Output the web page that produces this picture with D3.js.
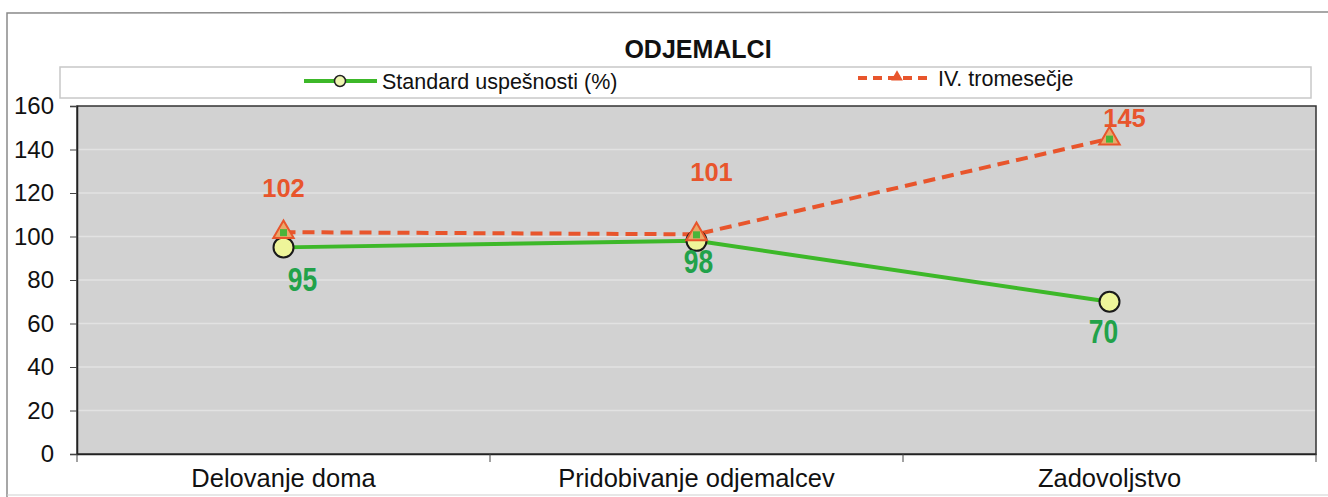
<!DOCTYPE html>
<html><head><meta charset="utf-8">
<script src="https://cdn.jsdelivr.net/npm/d3@7"></script>
<style>body{margin:0;background:#fff}svg{display:block}</style>
</head><body>
<svg id="c" width="1328" height="497"></svg>
<script>
const categories = ["Delovanje doma", "Pridobivanje odjemalcev", "Zadovoljstvo"];
const standardValues = [95, 98, 70];
const quarterValues = [102, 101, 145];
const seriesNames = ["Standard uspešnosti (%)", "IV. tromesečje"];
const yTicks = [0, 20, 40, 60, 80, 100, 120, 140, 160];
const title = "ODJEMALCI";

// label offsets (style, not data)
const stdLabelOff = [[19, 44], [2, 32], [-6, 41]];
const qLabelOff = [[0, -35], [15, -53], [15, -12]];

const svg = d3.select("#c");
const M = {left: 77, right: 1316, top: 106, bottom: 454};
const green = "#3db829", orange = "#e8552c";
const FONT = "Liberation Sans, Arial, sans-serif";

// outer frame
svg.append("path").attr("d", "M7,497 L7,13 L1328,12").attr("fill", "none").attr("stroke", "#8a8a8a").attr("stroke-width", 1.5);
svg.append("line").attr("x1", 7).attr("x2", 1328).attr("y1", 495).attr("y2", 495).attr("stroke", "#cfcfcf");

const x = d3.scaleBand().domain(categories).range([M.left, M.right]);
const y = d3.scaleLinear().domain([0, 160]).range([M.bottom, M.top]);

// plot bg
svg.append("rect").attr("x", M.left).attr("y", M.top).attr("width", M.right - M.left).attr("height", M.bottom - M.top)
  .attr("fill", "#d2d2d2");
// gridlines
svg.append("g").selectAll("line").data(yTicks.slice(1, -1)).join("line")
  .attr("x1", M.left).attr("x2", M.right).attr("y1", d => y(d)).attr("y2", d => y(d))
  .attr("stroke", "#e2e2e2").attr("stroke-width", 1.5);
svg.append("rect").attr("x", M.left).attr("y", M.top).attr("width", M.right - M.left).attr("height", M.bottom - M.top)
  .attr("fill", "none").attr("stroke", "#333").attr("stroke-width", 1.5);

// y axis
const ya = svg.append("g").attr("transform", `translate(${M.left},0)`)
  .call(d3.axisLeft(y).tickValues(yTicks).tickSize(7).tickPadding(16));
ya.select(".domain").attr("stroke", "#222").attr("stroke-width", 1.5);
ya.selectAll(".tick line").attr("stroke", "#444");
ya.selectAll("text").attr("font-family", FONT).attr("font-size", 24).attr("fill", "#111");

// x axis
const xa = svg.append("g").attr("transform", `translate(0,${M.bottom})`)
  .call(d3.axisBottom(x).tickSize(0).tickPadding(15));
xa.select(".domain").attr("stroke", "#222").attr("stroke-width", 1.5);
xa.selectAll("text").attr("font-family", FONT).attr("font-size", 25.5).attr("fill", "#111");
// category boundary ticks
svg.append("g").selectAll("line").data(categories.concat(["_end"])).join("line")
  .attr("x1", (d, i) => i < categories.length ? x(d) : M.right)
  .attr("x2", (d, i) => i < categories.length ? x(d) : M.right)
  .attr("y1", M.bottom).attr("y2", M.bottom + 8).attr("stroke", "#444");

const cx = d => x(d) + x.bandwidth() / 2;

// title
svg.append("text").attr("x", 698).attr("y", 58).attr("text-anchor", "middle")
  .attr("font-family", FONT).attr("font-weight", "bold").attr("font-size", 25).attr("fill", "#111").text(title);

// legend
svg.append("rect").attr("x", 60).attr("y", 67).attr("width", 1251).attr("height", 31).attr("fill", "#fff").attr("stroke", "#c8c8c8").attr("stroke-width", 1.5);
svg.append("line").attr("x1", 304).attr("x2", 377).attr("y1", 81).attr("y2", 81).attr("stroke", green).attr("stroke-width", 4);
svg.append("circle").attr("cx", 340).attr("cy", 81).attr("r", 5.5).attr("fill", "#eef5b0").attr("stroke", "#222").attr("stroke-width", 1.5);
svg.append("text").attr("x", 382).attr("y", 89).attr("font-family", FONT).attr("font-size", 21.5).attr("fill", "#111").text(seriesNames[0]);
svg.append("line").attr("x1", 858).attr("x2", 932).attr("y1", 78).attr("y2", 78).attr("stroke", orange).attr("stroke-width", 4).attr("stroke-dasharray", "9,6");
svg.append("path").attr("d", d3.symbol(d3.symbolTriangle, 60)()).attr("transform", "translate(897,77)").attr("fill", orange);
svg.append("text").attr("x", 938).attr("y", 86).attr("font-family", FONT).attr("font-size", 21.5).attr("fill", "#111").text(seriesNames[1]);

// lines
const line = d3.line().x((d, i) => cx(categories[i])).y(d => y(d));
svg.append("path").datum(standardValues).attr("d", line).attr("fill", "none").attr("stroke", green).attr("stroke-width", 4);
svg.append("path").datum(quarterValues).attr("d", line).attr("fill", "none").attr("stroke", orange).attr("stroke-width", 4).attr("stroke-dasharray", "12,7");

// markers
svg.append("g").selectAll("circle").data(standardValues).join("circle")
  .attr("cx", (d, i) => cx(categories[i])).attr("cy", d => y(d)).attr("r", 10)
  .attr("fill", "#eef59a").attr("stroke", "#1a1a1a").attr("stroke-width", 2);
const tri = svg.append("g").selectAll("g").data(quarterValues).join("g")
  .attr("transform", (d, i) => `translate(${cx(categories[i])},${y(d)})`);
tri.append("path").attr("d", d3.symbol(d3.symbolTriangle, 180)()).attr("fill", "#e9a86a").attr("stroke", orange).attr("stroke-width", 2);
tri.append("rect").attr("x", -3.5).attr("y", -3).attr("width", 7).attr("height", 7).attr("fill", "#4ab43a");

// labels
svg.append("g").selectAll("text").data(standardValues).join("text")
  .attr("transform", (d, i) => `translate(${cx(categories[i]) + stdLabelOff[i][0]},${y(d) + stdLabelOff[i][1]}) scale(0.8,1)`)
  .attr("text-anchor", "middle").attr("font-family", FONT)
  .attr("font-weight", "bold").attr("font-size", 33).attr("fill", "#22a24a").text(d => d);
svg.append("g").selectAll("text").data(quarterValues).join("text")
  .attr("x", (d, i) => cx(categories[i]) + qLabelOff[i][0]).attr("y", (d, i) => y(d) + qLabelOff[i][1])
  .attr("text-anchor", "middle").attr("font-family", FONT)
  .attr("font-weight", "bold").attr("font-size", 25.5).attr("fill", orange).text(d => d);
</script>
</body></html>
